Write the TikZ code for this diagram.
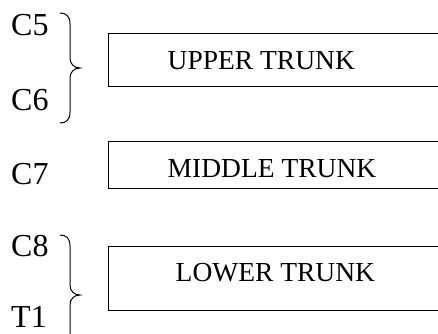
\documentclass[tikz,border=0pt]{standalone}
\usepackage{fontspec}
\setmainfont{Liberation Serif}
\begin{document}
\begin{tikzpicture}[x=1pt,y=-1pt,
  trunkbox/.style={draw,line width=1.4pt,rectangle,inner sep=0pt,anchor=north west},
  trunktext/.style={inner sep=0pt,anchor=base west,font=\fontsize{27.5}{30}\selectfont},
  levellabel/.style={inner sep=0pt,anchor=base west,font=\fontsize{32}{34}\selectfont},
  bracepath/.style={line width=1pt}]
\useasboundingbox (0,0) rectangle (438,333);
\clip (0,0) rectangle (438,333);
% boxes
\node[trunkbox,minimum width=360pt,minimum height=53pt] (ub) at (108,33) {};
\node[trunkbox,minimum width=360pt,minimum height=47pt] (mb) at (108,141) {};
\node[trunkbox,minimum width=360pt,minimum height=64pt] (lb) at (108,246) {};
% box texts
\node[trunktext] (ut) at (167.5,69) {UPPER TRUNK};
\node[trunktext] (mt) at (167.5,177) {MIDDLE TRUNK};
\node[trunktext] (lt) at (175.5,281) {LOWER TRUNK};
% labels
\node[levellabel] (c5) at (11,35) {C5};
\node[levellabel] (c6) at (11,110) {C6};
\node[levellabel] (c7) at (11,184) {C7};
\node[levellabel] (c8) at (11,256) {C8};
\node[levellabel] (t1) at (11,327) {T1};
% braces
\draw[bracepath] (60,13) .. controls (66,13) and (70,16) .. (70,24) -- (70,58)
  .. controls (70,64) and (74,68) .. (80,68)
  .. controls (74,68) and (70,72) .. (70,78) -- (70,112)
  .. controls (70,120) and (66,123) .. (60,123);
\draw[bracepath] (60,235) .. controls (66,235) and (70,238) .. (70,246) -- (70,285)
  .. controls (70,291) and (74,295) .. (80,295)
  .. controls (74,295) and (70,299) .. (70,305) -- (70,344)
  .. controls (70,352) and (66,355) .. (60,355);
\end{tikzpicture}
\end{document}
